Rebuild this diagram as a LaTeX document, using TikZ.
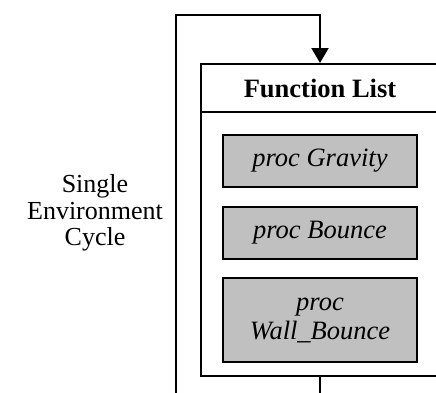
\documentclass[tikz,border=0pt]{standalone}
\usepackage{fontspec}
\setmainfont{Liberation Serif}
\usetikzlibrary{arrows.meta}
\begin{document}
\begin{tikzpicture}[x=1pt,y=-1pt,
  procbox/.style={draw=black,line width=1.5pt,fill=procgray,minimum width=194pt,align=center,font=\fontsize{26.5}{29}\selectfont\itshape,inner sep=0pt},
  loopline/.style={line width=2pt},
  lbl/.style={align=center,font=\fontsize{26}{26.5}\selectfont}]
\definecolor{procgray}{RGB}{192,192,192}
\useasboundingbox (0,0) rectangle (436,392);
\clip (0,0) rectangle (436,392);
% outer box
\node[draw,line width=2pt,minimum width=250pt,minimum height=312pt,inner sep=0pt,anchor=north west] (outer) at (200,63) {};
\node[font=\fontsize{26.5}{28}\selectfont\bfseries] (title) at (320,88) {Function List};
\coordinate (sepL) at (200,112);
\coordinate (sepR) at (450,112);
\draw[line width=1.5pt] (sepL) -- (sepR);
% proc boxes
\node[procbox,minimum height=52pt] (grav) at (320,161) {proc Gravity};
\node[procbox,minimum height=52pt] (bounce) at (320,233) {proc Bounce};
\node[procbox,minimum height=84pt] (wall) at (320,320) {proc\\Wall\_Bounce};
% loop
\coordinate (botL) at (176,400);
\coordinate (botR) at (320,400);
\coordinate (topL) at (176,15);
\coordinate (topR) at (320,15);
\draw[loopline,-{Triangle[length=15pt,width=17pt]}] (outer.south -| topR) -- (botR) -- (botL) -- (topL) -- (topR) -- (outer.north -| topR);
\node[lbl] (cycle) at (95,213) {Single\\Environment\\Cycle};
\end{tikzpicture}
\end{document}
